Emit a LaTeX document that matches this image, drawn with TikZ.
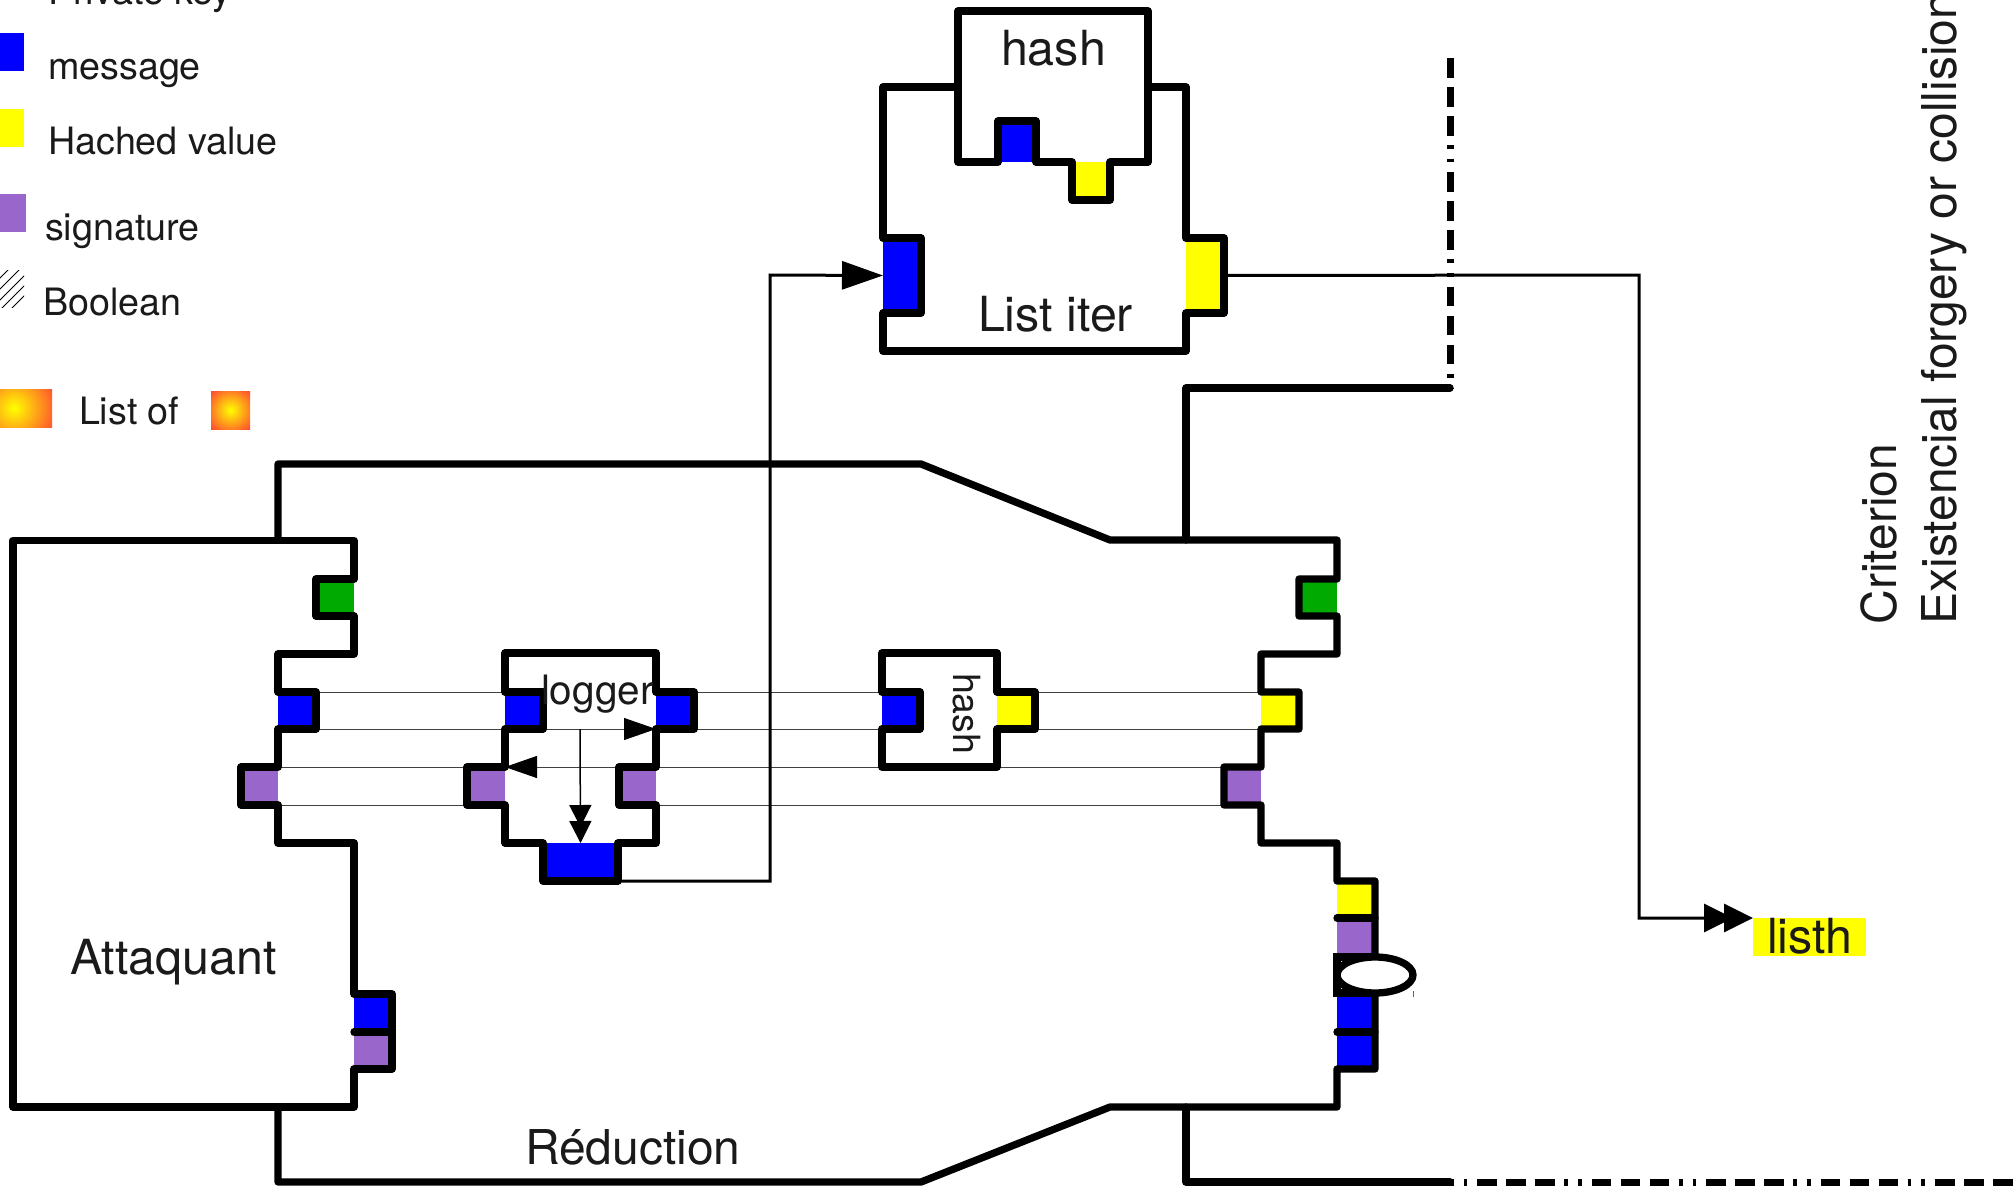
\documentclass[tikz,border=0pt]{standalone}
\usepackage{fontspec}
\setmainfont{TeX Gyre Heros}
\usetikzlibrary{arrows.meta,shapes.geometric}
\definecolor{portblue}{HTML}{0000FF}
\definecolor{portyellow}{HTML}{FFFF00}
\definecolor{portpurple}{HTML}{9966CC}
\definecolor{portgreen}{HTML}{00AA00}
\definecolor{inkcol}{HTML}{1A1A1A}
\definecolor{listouter}{HTML}{FF4A30}
\tikzset{
  portbox/.style={inner sep=0pt,outer sep=0pt,draw=none,anchor=north west},
  outline/.style={line width=7.3pt,line join=round,line cap=round},
  thinwire/.style={line width=1pt,draw=black!75},
  wire/.style={line width=3pt},
  midwire/.style={line width=1.5pt},
  lbl/.style={anchor=base west,inner sep=0pt,outer sep=0pt,text=inkcol},
  big/.style={lbl,font=\fontsize{48.4}{48}\selectfont},
  sidetext/.style={lbl,font=\fontsize{48}{48}\selectfont},
  legend/.style={lbl,font=\fontsize{37.7}{38}\selectfont},
  dashmix/.style={line width=7pt,line cap=butt,dash pattern=on 19.5pt off 9.5pt on 19.5pt off 9.5pt on 19.5pt off 9.5pt on 3.7pt off 10pt on 3.7pt off 10pt},
  bigtip/.tip={Triangle[length=41pt,width=28pt]},
  smalltip/.tip={Triangle[length=32pt,width=22pt,color=black,fill=black]}
}
\newcommand{\portnode}[6]{\node[portbox,fill=#2,minimum width={(#5-#3)*1pt},minimum height={(#6-#4)*1pt}] (#1) at (#3,#4) {};}
\begin{document}
\begin{tikzpicture}[x=1pt,y=-1pt]
\clip (0,0) rectangle (2014,1186);
% legend
\portnode{lgblue}{portblue}{-2}{33}{24}{71}
\portnode{lgyellow}{portyellow}{-2}{109}{24}{147}
\portnode{lgpurple}{portpurple}{-2}{194}{26}{232}
\node[legend] (tpriv) at (48,4) {Private key};
\node[legend] (tmsg) at (48,79) {message};
\node[legend] (thv) at (48,154) {Hached value};
\node[legend] (tsig) at (45,240) {signature};
\node[legend] (tbool) at (43,315) {Boolean};
\node[legend] (tlist) at (79,424) {List of};
\begin{scope}
\clip (0,270) rectangle (24,307);
\foreach \c in {278,289,300,310,320}{\draw[line width=.8pt] (\c-310,310) -- (\c-260,260);}
\end{scope}
\begin{scope}
\clip (0,389) rectangle (52,427);
\shade[inner color=yellow,outer color=listouter] (-31,363) rectangle (59,453);
\end{scope}
\begin{scope}
\clip (211,391) rectangle (250,429);
\shade[inner color=yellow,outer color=listouter] (203.5,383.5) rectangle (257.5,436.5);
\end{scope}
% ports
\portnode{agreen}{portgreen}{316}{579}{354}{616}
\portnode{ablue}{portblue}{278}{692}{316}{729}
\portnode{apurple}{portpurple}{241}{767}{278}{805}
\portnode{aout}{portblue}{354}{994}{392}{1032}
\portnode{asig}{portpurple}{354}{1032}{392}{1069}
\portnode{lbl}{portblue}{505}{692}{543}{729}
\portnode{lpl}{portpurple}{467}{767}{505}{805}
\portnode{lbr}{portblue}{656}{692}{694}{729}
\portnode{lpr}{portpurple}{619}{767}{656}{805}
\portnode{lbot}{portblue}{543}{843}{618}{881}
\portnode{hin}{portblue}{882}{692}{920}{729}
\portnode{hout}{portyellow}{997}{692}{1035}{729}
\portnode{rgreen}{portgreen}{1299}{579}{1337}{616}
\portnode{ryel}{portyellow}{1261}{692}{1299}{729}
\portnode{rpur}{portpurple}{1224}{767}{1261}{805}
\portnode{r1}{portyellow}{1337}{881}{1375}{918}
\portnode{r2}{portpurple}{1337}{918}{1375}{957}
\portnode{r3}{portblue}{1337}{993}{1375}{1032}
\portnode{r4}{portblue}{1337}{1032}{1375}{1069}
\portnode{itin}{portblue}{883}{238}{921}{313}
\portnode{itout}{portyellow}{1186}{238}{1224}{313}
\portnode{hhin}{portblue}{998}{121}{1036}{162}
\portnode{hhout}{portyellow}{1072}{162}{1110}{200}
% thin wires
\draw[thinwire] (ablue.north east) -- (lbl.north west);
\draw[thinwire] (ablue.south east) -- (lbl.south west);
\draw[thinwire] (apurple.north east) -- (lpl.north west);
\draw[thinwire] (apurple.south east) -- (lpl.south west);
\draw[thinwire] (lbr.north east) -- (hin.north west);
\draw[thinwire] (lbr.south east) -- (hin.south west);
\draw[thinwire] (hout.north east) -- (ryel.north west);
\draw[thinwire] (hout.south east) -- (ryel.south west);
\draw[thinwire] (lpr.north east) -- (rpur.north west);
\draw[thinwire] (lpr.south east) -- (rpur.south west);
% logger inner wires
\draw[thinwire,-{smalltip}] (lbl.south east) -- (lbr.south west);
\draw[thinwire,-{smalltip}] (lpr.north west) -- (lpl.north east);
\coordinate (tapin) at (580,729);
\draw[midwire,-{Triangle[length=22pt,width=22pt,sep=-6pt]Triangle[length=22pt,width=22pt]}] (tapin) -- (lbot.north);
% connectors
\coordinate (turnA) at (770,881);
\coordinate (turnB) at (770,275);
\draw[wire,-{bigtip}] (lbot.south east) -- (turnA) -- (turnB) -- (itin.west);
\coordinate (turnC) at (1639,275);
\node[portbox,fill=portyellow,minimum width=113pt,minimum height=38pt] (listh) at (1753,918) {};
\draw[wire,-{Triangle[length=29pt,width=28pt,sep=-9pt]Triangle[length=29pt,width=28pt]}] (itout.east) -- (turnC) |- (listh.north west);
% outlines
\draw[outline] (13,540.5) -- (354,540.5) -- (354,579) -- (316,579) -- (316,616) -- (354,616) -- (354,654) -- (278,654) -- (278,692) -- (316,692) -- (316,729) -- (278,729) -- (278,767) -- (241,767) -- (241,805) -- (278,805) -- (278,843) -- (354,843) -- (354,994) -- (392,994) -- (392,1069) -- (354,1069) -- (354,1107) -- (13,1107) -- cycle;
\draw[outline] (278,540) -- (278,464) -- (921,464) -- (1110,540) -- (1337,540) -- (1337,579) -- (1299,579) -- (1299,616) -- (1337,616) -- (1337,654) -- (1261,654) -- (1261,692) -- (1299,692) -- (1299,729) -- (1261,729) -- (1261,767) -- (1224,767) -- (1224,805) -- (1261,805) -- (1261,843) -- (1337,843) -- (1337,881) -- (1375,881) -- (1375,1069) -- (1337,1069) -- (1337,1107) -- (1110,1107) -- (921,1182) -- (278,1182) -- (278,1107);
\draw[outline] (354,1032) -- (392,1032);
\draw[outline] (1337,918) -- (1375,918);
\draw[outline] (1337,1032) -- (1375,1032);
% boolean port
\draw[line width=7.3pt,line cap=butt,line join=miter,fill=white] (1375,957) -- (1337,957) -- (1337,993) -- (1375,993);
\node[draw,ellipse,line width=7.3pt,fill=white,inner sep=0pt,outer sep=0pt,minimum width=76pt,minimum height=36pt] (boolport) at (1375,975) {};
\draw[line width=.8pt,draw=black!60] (1413,991) -- (1413,997);
% logger
\draw[outline] (505,653) -- (656,653) -- (656,692) -- (694,692) -- (694,729) -- (656,729) -- (656,767) -- (619,767) -- (619,805) -- (656,805) -- (656,843) -- (618,843) -- (618,881) -- (543,881) -- (543,843) -- (505,843) -- (505,805) -- (467,805) -- (467,767) -- (505,767) -- (505,729) -- (543,729) -- (543,692) -- (505,692) -- cycle;
% hash small
\draw[outline] (882,653) -- (997,653) -- (997,692) -- (1035,692) -- (1035,729) -- (997,729) -- (997,767) -- (882,767) -- (882,729) -- (920,729) -- (920,692) -- (882,692) -- cycle;
% list iter and hash
\draw[outline] (958,87) -- (883,87) -- (883,238) -- (921,238) -- (921,313) -- (883,313) -- (883,351) -- (1186,351) -- (1186,313) -- (1224,313) -- (1224,238) -- (1186,238) -- (1186,87) -- (1148,87);
\draw[outline] (958,11) -- (1148,11) -- (1148,162) -- (1110,162) -- (1110,200) -- (1072,200) -- (1072,162) -- (1036,162) -- (1036,121) -- (998,121) -- (998,162) -- (958,162) -- cycle;
% criterion frame
\draw[outline] (1186,540) -- (1186,388) -- (1450,388);
\draw[outline] (1186,1107) -- (1186,1182) -- (1450,1182);
\coordinate (frameTop) at (1450,58);
\coordinate (frameMid) at (1450,388);
\coordinate (frameStart) at (1450,1182);
\coordinate (frameEnd) at (2014,1182);
\draw[dashmix] (frameTop) -- (frameMid);
\draw[dashmix,dash phase=87pt] (frameStart) -- (frameEnd);
% labels
\node[big] (tatt) at (70,974) {Attaquant};
\node[sidetext] (tred) at (525,1164) {Réduction};
\node[big] (thash) at (1001,65) {hash};
\node[big] (titer) at (978,331) {List iter};
\node[lbl,font=\fontsize{40.5}{40}\selectfont] (tlog) at (541,704) {logger};
\node[lbl,font=\fontsize{37.5}{38}\selectfont,rotate=-90] (tsmall) at (953,673) {hash};
\node[big] (tlisth) at (1767,953) {listh};
\node[sidetext,rotate=90] (tcrit) at (1896,624.5) {Criterion};
\node[sidetext,rotate=90] (texist) at (1956,624.5) {Existencial forgery or collision};
\end{tikzpicture}
\end{document}
